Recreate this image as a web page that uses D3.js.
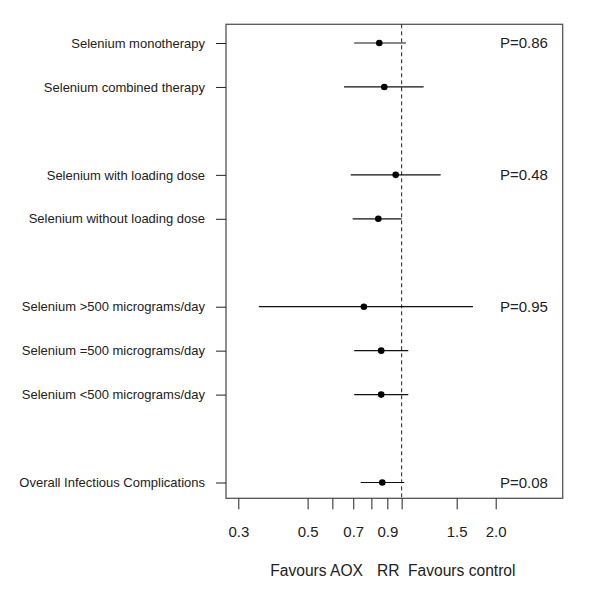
<!DOCTYPE html>
<html><head><meta charset="utf-8">
<script src="https://cdn.jsdelivr.net/npm/d3@7"></script>
<style>body{margin:0;background:#fff}svg{display:block}</style>
</head><body><svg id="c" width="600" height="589"></svg>
<script>
const labels = ["Selenium monotherapy","Selenium combined therapy","Selenium with loading dose","Selenium without loading dose","Selenium >500 micrograms/day","Selenium =500 micrograms/day","Selenium <500 micrograms/day","Overall Infectious Complications"];
const rows = [1,2,4,5,7,8,9,11];
const rr = [0.848,0.880,0.957,0.842,0.757,0.860,0.860,0.867];
const lower = [0.705,0.654,0.687,0.697,0.349,0.705,0.705,0.739];
const upper = [1.032,1.176,1.333,1.000,1.691,1.050,1.050,1.020];
const pLabels = ["P=0.86","P=0.48","P=0.95","P=0.08"];
const pRows = [1,4,7,11];
const tickValues = [0.3,0.5,0.6,0.7,0.8,0.9,1.0,1.5,2.0];
const tickLabels = ["0.3","0.5","","0.7","","0.9","","1.5","2.0"];

const svg = d3.select("#c");
const box = {l:226, r:562.7, t:24.3, b:498.3};
const x = d3.scaleLog().domain([0.3,2.0]).range([238.3,495.7]);
const y = d3.scaleLinear().domain([1,11]).range([43,482.5]);
const font = "'Liberation Sans', Arial, sans-serif";

// box
svg.append("rect").attr("x",box.l).attr("y",box.t).attr("width",box.r-box.l).attr("height",box.b-box.t)
  .attr("fill","none").attr("stroke","#555").attr("stroke-width",1.3);

// x axis ticks
const xa = svg.append("g").attr("transform",`translate(0,${box.b})`)
  .call(d3.axisBottom(x).tickValues(tickValues).tickSize(11).tickPadding(17)
    .tickFormat((d,i)=>tickLabels[i]));
xa.select(".domain").remove();
xa.selectAll("line").attr("stroke","#222");
xa.selectAll("text").attr("font-family",font).attr("font-size",15).attr("fill","#222");

// y axis ticks
const ya = svg.append("g").attr("transform",`translate(${box.l},0)`)
  .call(d3.axisLeft(y).tickValues(rows).tickSize(10).tickPadding(11)
    .tickFormat((d,i)=>labels[i]));
ya.select(".domain").remove();
ya.selectAll("line").attr("stroke","#222");
ya.selectAll("text").attr("font-family",font).attr("font-size",13).attr("fill","#222");

// reference line
svg.append("line").attr("x1",x(1)).attr("x2",x(1)).attr("y1",box.t).attr("y2",box.b)
  .attr("stroke","#222").attr("stroke-dasharray","4,3").attr("stroke-width",1);

// CIs
svg.selectAll(".ci").data(rows).enter().append("line")
  .attr("x1",(d,i)=>x(lower[i])).attr("x2",(d,i)=>x(upper[i]))
  .attr("y1",d=>y(d)).attr("y2",d=>y(d)).attr("stroke","#111").attr("stroke-width",1.2);
svg.selectAll(".pt").data(rows).enter().append("circle")
  .attr("cx",(d,i)=>x(rr[i])).attr("cy",d=>y(d)).attr("r",3.3).attr("fill","#000");

// p values
svg.selectAll(".p").data(pRows).enter().append("text")
  .attr("x",500).attr("y",d=>y(d)).attr("dy","0.35em")
  .attr("font-family",font).attr("font-size",15).attr("fill","#222")
  .text((d,i)=>pLabels[i]);

// x title
const tg = svg.append("g").attr("font-family",font).attr("font-size",15.6).attr("fill","#222");
tg.append("text").attr("x",363).attr("y",576).attr("text-anchor","end").text("Favours AOX");
tg.append("text").attr("x",377).attr("y",576).text("RR");
tg.append("text").attr("x",408).attr("y",576).text("Favours control");
</script></body></html>
